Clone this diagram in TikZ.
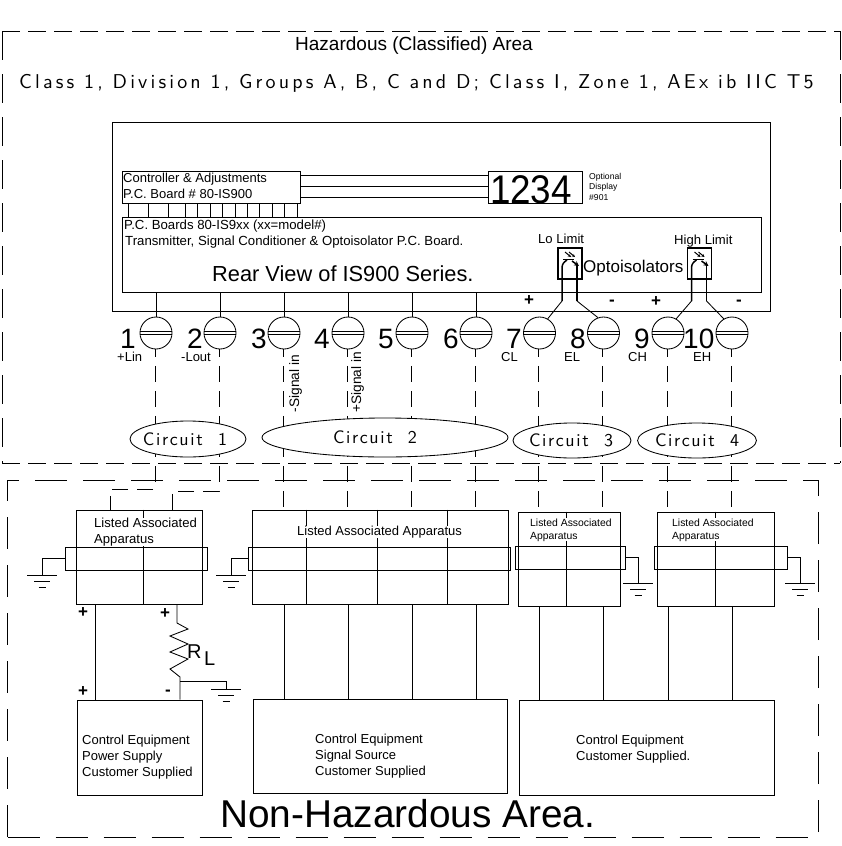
\documentclass[tikz,border=0pt]{standalone}
\usepackage{fontspec}
\setmainfont{Liberation Sans}
\newfontface\strokefont{lmsans10-regular}[Extension=.otf,LetterSpace=9]
\newfontface\strokewide{lmsans10-regular}[Extension=.otf,LetterSpace=15.8]
\usetikzlibrary{shapes.geometric,arrows.meta,calc}
\tikzset{
  wire/.style={line width=0.85pt},
  haz h/.style={wire,dash pattern=on 18pt off 8pt},
  haz v/.style={wire,dash pattern=on 29pt off 14pt},
  nonhaz/.style={wire,dash pattern=on 32pt off 16pt},
  fieldwire/.style={wire,dash pattern=on 16.5pt off 8.5pt,dash phase=8.5pt},
  thick lead/.style={line width=1.5pt},
  txt/.style={inner sep=0pt,anchor=base west,font=\fontsize{#1}{#1}\selectfont},
  blk/.style args={#1/#2}{inner sep=0pt,anchor=base west,align=left,font=\fontsize{#1}{#2}\selectfont},
  masked/.style args={#1/#2}{blk=#1/#2,fill=white},
  term/.style={circle,draw,wire,minimum size=32pt,inner sep=0pt},
  circuit/.style={ellipse,draw,wire,fill=white,inner sep=0pt,font=\strokefont\fontsize{18}{18}\selectfont},
  num/.style={txt=28},
  sign/.style={font=\bfseries\fontsize{17}{17}\selectfont,inner sep=0pt},
}
\newcommand{\bx}[6][]{\node[draw,wire,rectangle,inner sep=0pt,minimum width={(#5-#3)*1pt},minimum height={(#6-#4)*1pt},#1] (#2) at ({(#3+#5)/2},{(#4+#6)/2}) {};}
\newcommand{\gnd}[1]{\draw[wire] ($(#1)+(-15,0)$) -- ($(#1)+(15,0)$) ($(#1)+(-8,6.5)$) -- ($(#1)+(8,6.5)$) ($(#1)+(-3.5,12.5)$) -- ($(#1)+(3.5,12.5)$);}
\begin{document}
\begin{tikzpicture}[x=1pt,y=-1pt]
\useasboundingbox (0,0) rectangle (841,846);
% zones
\coordinate (hzA) at (2,31); \coordinate (hzB) at (840,31);
\coordinate (hzC) at (840,463); \coordinate (hzD) at (2,463);
\draw[haz h] (hzA) -- (hzB);
\draw[haz h] (hzD) -- (hzC);
\draw[haz v] (hzA) -- (hzD);
\draw[haz v] (hzB) -- (hzC);
\bx[nonhaz]{nonhazard}{7.5}{480}{818.5}{837}
\node[txt=19] (hzt) at (295,50) {Hazardous (Classified) Area};
\node[inner sep=0pt,anchor=base west,font=\strokewide\fontsize{20}{20}\selectfont] (cls) at (19,88) {Class 1, Division 1, Groups A, B, C and D; Class I, Zone 1, AEx ib IIC T5};
% instrument
\bx{rear}{112}{122}{770}{311}
\bx{ctrl}{122}{171}{300}{203}
\bx{disp}{488}{171}{582}{203}
\bx{board}{122}{217}{761}{292}
\foreach \y in {175,186,197}{\coordinate (l) at (0,\y); \draw[wire] (ctrl.east |- l) -- (disp.west |- l);}
\foreach \x in {128,148,168,185,197,210,222,235,247,259,272,284,297}{\coordinate (s) at (\x,0); \draw[wire] (ctrl.south -| s) -- (board.north -| s);}
\node[blk=13/16] (ctrlt) at (123,198) {Controller \& Adjustments\\P.C. Board \# 80-IS900};
\node[inner sep=0pt,font=\fontsize{40}{40}\selectfont,anchor=base] (dispt) at (531,203) {\scalebox{0.92}[1]{1234}};
\node[blk=8.6/10.5] (opt) at (589,200) {Optional\\Display\\\#901};
\node[txt=13.2] (pc1) at (124,229) {P.C. Boards 80-IS9xx (xx=model\#)};
\node[txt=13.2] (pc2) at (125,245) {Transmitter, Signal Conditioner \& Optoisolator P.C. Board.};
\node[txt=21.8] (rv) at (212,281) {Rear View of IS900 Series.};
\node[txt=13.1] (lo) at (538,243) {Lo Limit};
\node[txt=13.1] (hi) at (674,244) {High Limit};
\node[txt=17] (oi) at (583,272) {Optoisolators};
% terminals
\foreach \n/\x in {1/156,2/220,3/284,4/348,5/412,6/476,7/539.5,8/603.5,9/668,10/732}{
  \node[term] (t\n) at (\x,333) {};
  \draw[wire] ($(t\n.west)+(0,-1.5)$) -- ($(t\n.east)+(0,-1.5)$) ($(t\n.west)+(0,1.5)$) -- ($(t\n.east)+(0,1.5)$);
}
\foreach \n in {1,...,6}{\draw[wire] (board.south -| t\n) -- (t\n.north);}
\foreach \n/\x in {1/120,2/187,3/251,4/314,5/378,6/443,7/506,8/570,9/634,10/683}{\node[num] (n\n) at (\x,348) {\n};}
\node[txt=13] at (117,361) {+Lin};
\node[txt=13] at (181,361) {-Lout};
\node[txt=13] at (501,361) {CL};
\node[txt=13] at (564,361) {EL};
\node[txt=13] at (628,361) {CH};
\node[txt=13] at (693,361) {EH};
\node[inner sep=0pt,rotate=90,anchor=base east,font=\fontsize{13.7}{13.7}\selectfont] at (299,355) {-Signal in};
\node[inner sep=0pt,rotate=90,anchor=base east,font=\fontsize{13.7}{13.7}\selectfont] at (361,352) {+Signal in};
% optoisolators
\foreach \nm/\ox/\ta/\tb/\aa/\ab in {a/0/7/8/60/110,b/129.5/9/10/60/120}{
 \begin{scope}[xshift=\ox pt]
  \bx[thick lead]{o\nm}{558}{248}{582}{279}
  \coordinate (jl\nm) at (562,301);
  \coordinate (jr\nm) at (577,301);
  \draw[thick lead] (jl\nm) -- (562,268) .. controls (562,264) and (564,262) .. (567,260);
  \draw[thick lead] (563,259.5) -- (574,259.5);
  \draw[thick lead,-{Stealth[length=5pt,width=5pt]}] (572,261) -- (579,266);
  \draw[thick lead] (jr\nm) -- (577,264);
  \draw[line width=1pt,-{Stealth[length=3pt,width=3pt]}] (565,252) -- (571,257);
  \draw[line width=1pt,-{Stealth[length=3pt,width=3pt]}] (569,252) -- (575,257);
 \end{scope}
 \draw[wire] (jl\nm) -- (t\ta.\aa);
 \draw[wire] (jr\nm) -- (t\tb.\ab);
}
\node[sign] at (529,301) {+};
\node[sign] at (612,303) {-};
\node[sign] at (656,302) {+};
\node[sign] at (739,303) {-};
% associated apparatus
\bx{app1}{76}{510}{202}{604}
\bx{app2}{252}{510}{508}{604}
\bx{app3}{518}{512}{620}{606}
\bx{app4}{657}{512}{774}{606}
\foreach \a/\x in {app1/143,app2/306,app2/377,app2/447,app3/566,app4/715}{\coordinate (s) at (\x,0); \draw[wire] (\a.north -| s) -- (\a.south -| s);}
\node[masked=13.1/16] at (94,543) {Listed Associated\\Apparatus};
\node[masked=13/16] at (297,535) {Listed Associated Apparatus};
\node[masked=10.4/13] at (530,539) {Listed Associated\\Apparatus};
\node[masked=10.4/13] at (672,539) {Listed Associated\\Apparatus};
\bx{band1}{65}{547}{207}{570}
\bx{band2}{248}{547}{510}{570}
\bx{band3}{515}{546}{625}{569}
\bx{band4}{654}{546}{787}{569}
% grounds
\coordinate (g1) at (42,575); \coordinate (g2) at (231,575);
\coordinate (g3) at (638,583); \coordinate (g4) at (800,583);
\draw[wire] (band1.west) -| (g1);
\draw[wire] (band2.west) -| (g2);
\draw[wire] (band3.east) -| (g3);
\draw[wire] (band4.east) -| (g4);
\gnd{g1}\gnd{g2}\gnd{g3}\gnd{g4}
% field wiring
\coordinate (a1) at (110,489); \coordinate (a2) at (172,491);
\coordinate (a1b) at (155,489); \coordinate (a2b) at (219,491);
\draw[fieldwire] ($(t1.south)+(-1,0)$) -- (a1b) -- (a1) -- (app1.north -| a1);
\draw[fieldwire] ($(t2.south)+(-1,0)$) -- (a2b) -- (a2) -- (app1.north -| a2);
\foreach \n/\a in {3/app2,4/app2,5/app2,6/app2,7/app3,8/app3,9/app4,10/app4}{
  \draw[fieldwire] ($(t\n.south)+(-1,0)$) -- ($(\a.north -| t\n)+(-1,0)$);
}
\node[circuit,minimum width=116pt,minimum height=36pt] (c1) at (188,439) {\hspace*{-6pt}Circuit\ \ 1};
\node[circuit,minimum width=246pt,minimum height=39pt] (c2) at (385,437.5) {\hspace*{-20pt}Circuit\ \ 2};
\node[circuit,minimum width=118pt,minimum height=35pt] (c3) at (572,440.5) {\hspace*{-2pt}Circuit\ \ 3};
\node[circuit,minimum width=118pt,minimum height=35pt] (c4) at (697,440.5) {Circuit\ \ 4};
% control equipment
\bx{ctl1}{77}{700}{202}{795}
\bx{ctl2}{253}{699}{507}{793}
\bx{ctl3}{519}{700}{774}{795}
\foreach \n/\a/\b in {3/app2/ctl2,4/app2/ctl2,5/app2/ctl2,6/app2/ctl2,7/app3/ctl3,8/app3/ctl3,9/app4/ctl3,10/app4/ctl3}{
  \draw[wire] (\a.south -| t\n) -- (\b.north -| t\n);
}
\node[blk=13/16] at (82,776) {Control Equipment\\Power Supply\\Customer Supplied};
\node[blk=13/16] at (315,775) {Control Equipment\\Signal Source\\Customer Supplied};
\node[blk=13/16] at (576,760) {Control Equipment\\Customer Supplied.};
% loop of circuit 1
\coordinate (pwr) at (95,0);
\draw[wire] (app1.south -| pwr) -- (ctl1.north -| pwr);
\coordinate (rt) at (177,623); \coordinate (rb) at (180,677); \coordinate (rb2) at (180,681);
\draw[wire] (app1.south -| rt) -- (rt) -- (188,629) -- (170,636) -- (188,644) -- (170,652) -- (188,659) -- (170,669) -- (rb) -- (ctl1.north -| rb);
\coordinate (g5) at (226,689);
\draw[wire] (rb2) -| (g5);
\gnd{g5}
\node[txt=20] at (187,658) {R};
\node[txt=20] at (204,665) {L};
\node[sign] at (83,613) {+};
\node[sign] at (165,614) {+};
\node[sign] at (83,692) {+};
\node[sign] at (168,693) {-};
\node[txt=38.8] (nh) at (220,827) {Non-Hazardous Area.};
\end{tikzpicture}
\end{document}
